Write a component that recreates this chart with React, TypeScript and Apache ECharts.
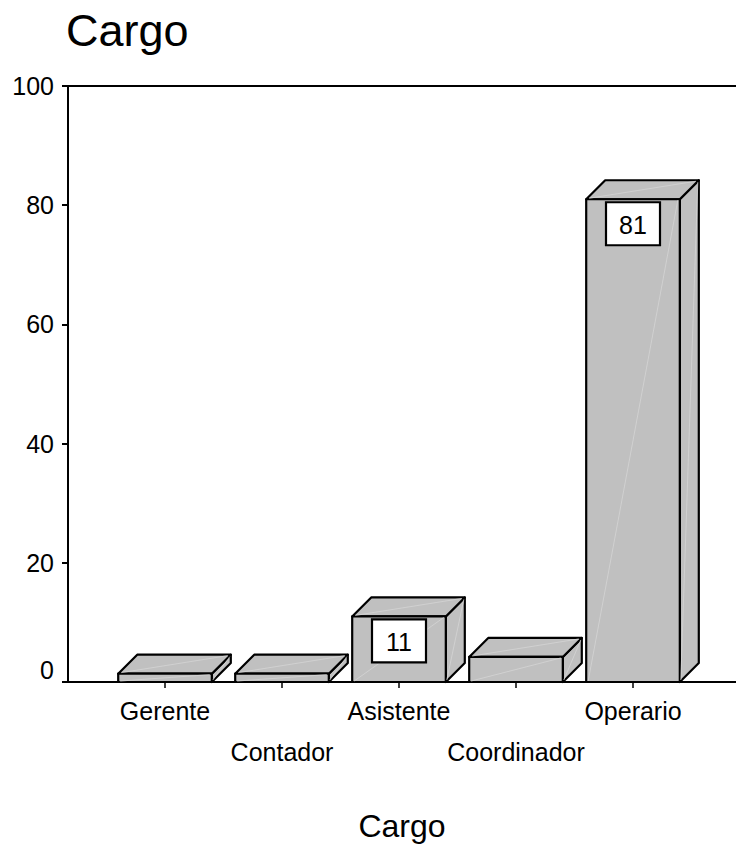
import React, { useEffect, useRef } from "react";
import * as echarts from "echarts";

// Bar chart of staff by position (percent), drawn as shaded 3D boxes.
const categories = ["Gerente", "Contador", "Asistente", "Coordinador", "Operario"];
const percents = [1.4, 1.4, 11, 4.2, 81];
const showValueLabel = [false, false, true, false, true];
const yMin = 0;
const yMax = 100;
const yStep = 20;

const FONT = "'Liberation Sans', Arial, sans-serif";
const FACE = "#c0c0c0";
const EDGE = "#000000";
const GLINT = "#d4d4d4";
const DEPTH = 19;

export default function App() {
  const ref = useRef<HTMLDivElement>(null);

  useEffect(() => {
    if (!ref.current) return;
    const chart = echarts.init(ref.current, undefined, { renderer: "svg" });

    const renderBox = (params: any, api: any) => {
      const i = params.dataIndex;
      const v = api.value(1);
      const top = api.coord([api.value(0), v]);
      const base = api.coord([api.value(0), 0]);
      const band = api.size([1, 0])[0];
      const w = band * 0.8;
      const x0 = top[0] - w / 2;
      const x1 = top[0] + w / 2;
      const yt = top[1];
      const yb = base[1];
      const d = DEPTH;
      const edgeStyle = { fill: FACE, stroke: EDGE, lineWidth: 2.2, lineJoin: "round" };
      const glint = { stroke: GLINT, lineWidth: 0.8 };
      const children: any[] = [
        {
          type: "polygon",
          shape: { points: [[x1, yt], [x1 + d, yt - d], [x1 + d, yb - d], [x1, yb]] },
          style: edgeStyle,
        },
        {
          type: "polygon",
          shape: { points: [[x0, yt], [x0 + d, yt - d], [x1 + d, yt - d], [x1, yt]] },
          style: edgeStyle,
        },
        {
          type: "rect",
          shape: { x: x0, y: yt, width: w, height: yb - yt },
          style: edgeStyle,
        },
        {
          type: "line",
          shape: { x1: x0 + 2, y1: yb - 1, x2: x1 - 2, y2: yt + 1 },
          style: glint,
        },
        {
          type: "line",
          shape: { x1: x0 + 3, y1: yt - 1, x2: x1 + d - 3, y2: yt - d + 1 },
          style: glint,
        },
        {
          type: "line",
          shape: { x1: x1 + 1, y1: yb - 2, x2: x1 + d - 1, y2: yt - d + 2 },
          style: glint,
        },
      ];
      if (showValueLabel[i]) {
        const bw = 54;
        const bh = 43;
        const by = yt + 3;
        children.push({
          type: "rect",
          shape: { x: top[0] - bw / 2, y: by, width: bw, height: bh },
          style: { fill: "#ffffff", stroke: EDGE, lineWidth: 2.2 },
        });
        children.push({
          type: "text",
          style: {
            x: top[0],
            y: by + bh / 2 + 1,
            text: String(v),
            fill: "#000",
            font: `25px ${FONT}`,
            align: "center",
            verticalAlign: "middle",
          },
        });
      }
      return { type: "group", children };
    };

    chart.setOption({
      animation: false,
      backgroundColor: "#ffffff",
      title: {
        text: "Cargo",
        left: 66,
        top: 8,
        padding: 0,
        textStyle: { fontFamily: FONT, fontSize: 45, fontWeight: "normal", color: "#000" },
      },
      grid: [
        { left: 68, top: 86, width: 676, height: 596 },
        { left: 106.5, top: 86, width: 585, height: 596 },
      ],
      xAxis: [
        {
          type: "value",
          gridIndex: 0,
          min: 0,
          max: 1,
          axisLine: { show: true, lineStyle: { color: EDGE, width: 2 } },
          axisTick: { show: false },
          axisLabel: { show: false },
          splitLine: { show: false },
          name: "Cargo",
          nameLocation: "middle",
          nameGap: 128,
          nameTextStyle: { fontFamily: FONT, fontSize: 32, color: "#000" },
        },
        {
          type: "value",
          gridIndex: 0,
          position: "top",
          min: 0,
          max: 1,
          axisLine: { show: true, lineStyle: { color: EDGE, width: 2 } },
          axisTick: { show: false },
          axisLabel: { show: false },
          splitLine: { show: false },
        },
        {
          type: "category",
          gridIndex: 1,
          data: categories,
          boundaryGap: true,
          axisLine: { show: false },
          axisTick: {
            show: true,
            alignWithLabel: true,
            length: 6,
            lineStyle: { color: EDGE, width: 1.5 },
          },
          axisLabel: {
            interval: 0,
            margin: 8,
            fontFamily: FONT,
            fontSize: 25,
            lineHeight: 41,
            color: "#000",
            formatter: (val: string, idx: number) => (idx % 2 === 1 ? "\n" + val : val),
          },
          splitLine: { show: false },
        },
      ],
      yAxis: [
        {
          type: "value",
          gridIndex: 0,
          min: yMin,
          max: yMax,
          interval: yStep,
          axisLine: { show: true, lineStyle: { color: EDGE, width: 2 } },
          axisTick: { show: true, length: 6, lineStyle: { color: EDGE, width: 2 } },
          axisLabel: {
            margin: 14,
            fontFamily: FONT,
            fontSize: 25,
            color: "#000",
            verticalAlignMinLabel: "bottom",
          },
          splitLine: { show: false },
        },
        {
          type: "value",
          gridIndex: 1,
          min: yMin,
          max: yMax,
          show: false,
        },
      ],
      series: [
        {
          type: "custom",
          xAxisIndex: 2,
          yAxisIndex: 1,
          clip: false,
          renderItem: renderBox,
          data: categories.map((c, i) => [i, percents[i]]),
        },
      ],
    });

    return () => chart.dispose();
  }, []);

  return (
    <div
      ref={ref}
      style={{ position: "fixed", left: 0, top: 0, width: 736, height: 848, background: "#fff" }}
    />
  );
}
